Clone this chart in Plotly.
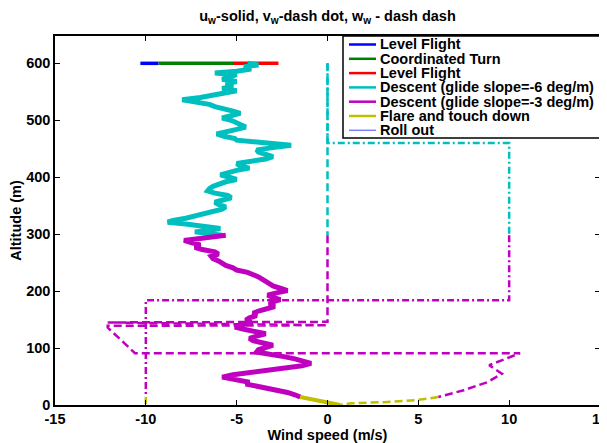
import plotly.graph_objects as go

# ---------------- data (wind speed in m/s vs altitude in m) ----------------
# Level flight 1 / coordinated turn / level flight 2 : all at 600 m
lf1_alt = [600, 600, 600]
lf1_u = [-10.3, -9.8, -9.3]
turn_alt = [600, 600, 600]
turn_u = [-9.3, -7.2, -5.2]
lf2_alt = [600, 600, 600]
lf2_u = [-5.2, -4.0, -2.7]
level_vw_alt = [600]
level_v = [0]
level_w = [0]

# Descent, glide slope -6
d6_alt = [600, 597, 594, 590, 586, 583, 580, 576, 572, 568, 564, 560, 556, 552, 548, 544,
          540, 536, 532, 528, 524, 520, 516, 512, 508, 504, 500, 496, 492, 488, 484, 480,
          476, 472, 468, 465, 462, 459, 456, 452, 448, 444, 440, 436, 432, 428, 424, 420,
          416, 412, 408, 404, 400, 396, 392, 388, 384, 380, 376, 372, 368, 364, 360, 356,
          352, 348, 344, 340, 336, 332, 328, 324, 321, 318, 314, 310, 307, 304, 301, 298]
d6_u = [-4.4, -3.8, -4.6, -4.2, -5.0, -6.2, -5.0, -5.5, -5.8, -5.0, -5.6, -5.2, -5.8, -5.0, -5.6, -6.4,
        -7.0, -8.0, -7.2, -6.5, -6.2, -5.6, -5.2, -4.8, -5.3, -5.8, -5.3, -5.0, -4.8, -4.5, -5.0, -5.6,
        -6.1, -5.7, -5.1, -5.0, -4.0, -2.8, -2.0, -3.0, -3.9, -3.8, -3.3, -3.0, -3.4, -4.3, -5.0, -4.8,
        -4.3, -5.0, -5.5, -5.9, -5.4, -5.0, -5.6, -6.0, -6.3, -6.5, -6.6, -6.2, -5.5, -5.3, -5.8, -6.2,
        -6.0, -5.6, -5.8, -6.3, -6.8, -7.2, -7.8, -8.5, -8.8, -7.8, -6.6, -5.9, -6.5, -7.3, -6.6, -5.8]
d6_v_alt = [600, 460, 460, 298]
d6_v = [0, 0, 10, 10]
d6_w_alt = [600, 298]
d6_w = [0, 0]

# Descent, glide slope -3
d3_alt = [298, 295, 292, 289, 285, 281, 277, 273, 269, 265, 261, 257, 253, 249, 245, 241,
          237, 233, 229, 225, 221, 217, 213, 209, 205, 201, 197, 193, 189, 185, 181, 177,
          173, 169, 165, 161, 157, 153, 149, 145, 141, 137, 133, 129, 125, 121, 117, 113,
          109, 105, 101, 97, 93, 89, 85, 81, 77, 73, 69, 65, 61, 57, 53, 49,
          46, 43, 40, 37, 34, 30, 26, 22, 18, 14]
d3_u = [-5.6, -6.5, -7.4, -7.9, -7.5, -7.0, -7.3, -6.9, -6.2, -6.0, -6.4, -6.3, -6.0, -5.8, -5.6, -5.2,
        -5.0, -4.4, -4.0, -3.8, -3.6, -3.4, -3.2, -3.0, -2.6, -2.2, -2.8, -3.3, -3.0, -2.6, -3.0, -3.2,
        -2.9, -3.4, -3.8, -4.1, -3.9, -4.3, -4.5, -4.2, -4.7, -5.1, -4.6, -4.0, -3.4, -3.9, -4.3, -4.1,
        -3.6, -3.0, -3.4, -3.8, -3.9, -3.0, -2.4, -1.8, -1.2, -0.9, -1.4, -2.4, -3.4, -4.3, -5.2, -5.8,
        -5.2, -4.6, -4.3, -4.5, -4.0, -3.2, -2.7, -2.2, -1.8, -1.5]
d3_v_alt = [298, 184, 184, 14]
d3_v = [10, 10, -10, -10]
d3_w_alt = [298, 146, 145, 140, 139, 136, 91, 91, 70, 55, 40, 26, 14]
d3_w = [0, 0, -12.1, 0, -12.1, -12.1, -10.6, 10.6, 8.9, 9.6, 8.8, 7.5, 6.1]

# Flare and touch down
fl_alt = [14, 11, 8, 5, 2, 0]
fl_u = [-1.5, -1.0, -0.4, 0.1, 0.5, 0.7]
fl_v_alt = [14, 0]
fl_v = [-10, -10]
fl_w_alt = [14, 9, 5, 3, 0]
fl_w = [6.1, 5.0, 3.1, 1.3, 0.7]

# Roll out
ro_alt = [0, 0]
ro_u = [0.7, 0.7]

legend_labels = ["Level Flight", "Coordinated Turn", "Level Flight",
                 "Descent (glide slope=-6 deg/m)", "Descent (glide slope=-3 deg/m)",
                 "Flare and touch down", "Roll out"]
colors = ["#0000FF", "#008000", "#FF0000", "#00BFBF", "#BF00BF", "#BFBF00", "#8080FF"]

x_ticks = [-15, -10, -5, 0, 5, 10, 15]
y_ticks = [0, 100, 200, 300, 400, 500, 600]

# ---------------- figure ----------------
DASH = "8px,4px"
DASHDOT = "7px,3px,2px,3px"
fig = go.Figure()


def add(x, y, color, width, dash="solid"):
    fig.add_trace(go.Scatter(x=x, y=y, mode="lines", showlegend=False, hoverinfo="skip",
                             line=dict(color=color, width=width, dash=dash)))


# level phases
for u, a, c in [(lf1_u, lf1_alt, colors[0]), (turn_u, turn_alt, colors[1]), (lf2_u, lf2_alt, colors[2])]:
    add(u, a, c, 3.5)
    add(level_v, level_vw_alt, c, 3)
    add(level_w, level_vw_alt, c, 3)

# descent -6
add(d6_v, d6_v_alt, colors[3], 2.5, DASHDOT)
add(d6_w, d6_w_alt, colors[3], 2.5, DASH)
add(d6_u, d6_alt, colors[3], 5)
# descent -3
add(d3_v, d3_v_alt, colors[4], 2.5, DASHDOT)
add(d3_w, d3_w_alt, colors[4], 2.5, DASH)
add(d3_u, d3_alt, colors[4], 5)
# flare
add(fl_v, fl_v_alt, colors[5], 2.5, DASHDOT)
add(fl_w, fl_w_alt, colors[5], 2.5, DASH)
add(fl_u, fl_alt, colors[5], 4)
# roll out
add(ro_u, ro_alt, colors[6], 1)

FONT = "Arial, Liberation Sans, Helvetica, sans-serif"
FS = 14.5

# The page body has an 8px default margin, so the figure is laid out shifted by it.
OFF = 8
W, H = 607, 443
L, R, T, B = 55, 600, 36, 405  # plot area, in page pixels


def px(xp):
    return (xp - L) / (R - L)


def py(yp):
    return (B - yp) / (B - T)


# ---------------- manual legend (compact MATLAB-like legend box) ----------------
shapes = [dict(type="rect", xref="paper", yref="paper", x0=px(343), x1=1.0, y0=py(138), y1=1.0,
               fillcolor="white", line=dict(color="black", width=1.5), layer="above")]
annotations = []
for i, (lab, col) in enumerate(zip(legend_labels, colors)):
    yc = 44.5 + i * 14.3
    shapes.append(dict(type="line", xref="paper", yref="paper", x0=px(349), x1=px(376),
                       y0=py(yc), y1=py(yc), layer="above",
                       line=dict(color=col, width=1.5 if i == 6 else 2.5)))
    annotations.append(dict(xref="paper", yref="paper", x=px(379), y=py(yc), text=lab,
                            showarrow=False, xanchor="left", yanchor="middle", borderpad=0,
                            font=dict(family=FONT, size=FS, color="black", weight="bold")))

axis_common = dict(showline=True, linecolor="black", linewidth=1.5, mirror="ticks",
                   ticks="inside", ticklen=5, tickwidth=1, tickcolor="black",
                   showgrid=False, zeroline=False, automargin=False,
                   tickfont=dict(family=FONT, size=FS, color="black", weight="bold"))

fig.update_layout(
    width=W, height=H,
    margin=dict(l=L - OFF, r=W - (R - OFF), t=T - OFF, b=H - (B - OFF), pad=0),
    paper_bgcolor="white", plot_bgcolor="white",
    showlegend=False,
    title=dict(text="u<sub>w</sub>-solid, v<sub>w</sub>-dash dot, w<sub>w</sub> - dash dash",
               x=0.5, xref="paper", xanchor="center", y=1 - (16 - OFF) / H, yref="container",
               yanchor="middle",
               font=dict(family=FONT, size=FS, color="black", weight="bold")),
    xaxis=dict(range=[-15, 15], tickvals=x_ticks, ticktext=[str(v) for v in x_ticks],
               title=dict(text="Wind speed (m/s)", standoff=1,
                          font=dict(family=FONT, size=FS, color="black", weight="bold")),
               **axis_common),
    yaxis=dict(range=[0, 648], tickvals=y_ticks, ticktext=[str(v) for v in y_ticks],
               title=dict(text="Altitude (m)", standoff=3,
                          font=dict(family=FONT, size=FS, color="black", weight="bold")),
               **axis_common),
    shapes=shapes,
    annotations=annotations,
)

fig.write_html("out.html")
